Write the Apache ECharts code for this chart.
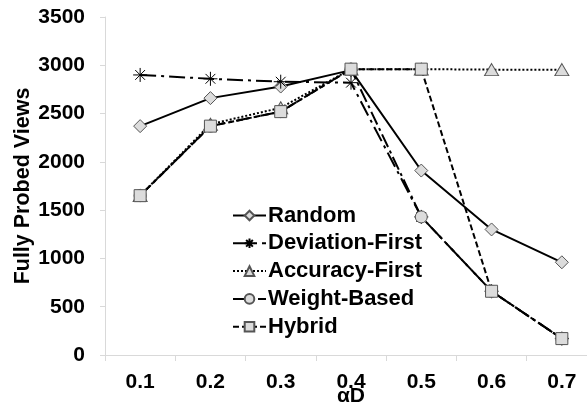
<!DOCTYPE html>
<html>
<head>
<meta charset="utf-8">
<script src="https://cdn.jsdelivr.net/npm/echarts@6/dist/echarts.min.js"></script>
<style>
  html, body { margin: 0; padding: 0; background: #fff; }
  #chart { width: 587px; height: 410px; }
</style>
</head>
<body>
<div id="chart"></div>
<script>
// Probe-ratio settings on the x axis
const categories = ['0.1', '0.2', '0.3', '0.4', '0.5', '0.6', '0.7'];

// Number of fully probed views per strategy
const randomVals    = [2370, 2660, 2780, 2950, 1910, 1300, 960];
const deviationVals = [2900, 2860, 2830, 2820, 1430, 660, 170];
const accuracyVals  = [1650, 2390, 2560, 2960, 2960, 2955, 2955];
const weightVals    = [1650, 2370, 2520, 2960, 1430, 660, 170];
const hybridVals    = [1650, 2370, 2520, 2960, 2960, 660, 170];

const yTicks = [0, 500, 1000, 1500, 2000, 2500, 3000, 3500];

const FONT = '"Liberation Sans", Arial, sans-serif';
const markFill = '#dcdcdc';
const markEdge = '#555';
const asterisk = 'path://M0,5L10,5M5,0L5,10M1.5,1.5L8.5,8.5M1.5,8.5L8.5,1.5';

function series(name, data, symbol, size, lineType, zBase) {
  return {
    name: name,
    type: 'line',
    data: data,
    symbol: symbol,
    symbolSize: size,
    z: zBase,
    lineStyle: { color: '#000', width: 2, type: lineType },
    itemStyle: symbol === asterisk
      ? { color: '#000', borderColor: '#000', borderWidth: 1 }
      : { color: markFill, borderColor: markEdge, borderWidth: 1 },
    emphasis: { disabled: true }
  };
}

const chart = echarts.init(document.getElementById('chart'), null, { renderer: 'canvas' });
chart.setOption({
  animation: false,
  backgroundColor: '#fff',
  textStyle: { fontFamily: FONT },
  grid: {
    left: 105, right: -10, top: 17, bottom: 55,
    containLabel: false,
    outerBoundsMode: 'none'
  },
  legend: {
    orient: 'vertical',
    left: 232,
    top: 204.5,
    padding: 0,
    itemWidth: 33,
    itemHeight: 12,
    itemGap: 5.8,
    textStyle: { fontFamily: FONT, fontSize: 22, lineHeight: 21, fontWeight: 'bold', color: '#000', padding: [0, 0, 0, -3] },
    data: ['Random', 'Deviation-First', 'Accuracy-First', 'Weight-Based', 'Hybrid']
  },
  xAxis: {
    type: 'category',
    data: categories,
    boundaryGap: true,
    name: 'αD',
    nameLocation: 'middle',
    nameGap: 31,
    nameMoveOverlap: false,
    nameTextStyle: { fontFamily: FONT, fontSize: 21, fontWeight: 'bold', color: '#000' },
    axisLine: { lineStyle: { color: '#d9d9d9', width: 1 } },
    axisTick: { show: true, length: 6, lineStyle: { color: '#d9d9d9' } },
    axisLabel: { fontFamily: FONT, fontSize: 21, fontWeight: 'bold', color: '#000', margin: 17 },
    splitLine: { show: false }
  },
  yAxis: {
    type: 'value',
    min: yTicks[0],
    max: yTicks[yTicks.length - 1],
    interval: 500,
    name: 'Fully Probed Views',
    nameLocation: 'middle',
    nameRotate: 90,
    nameGap: 71,
    nameMoveOverlap: false,
    nameTextStyle: { fontFamily: FONT, fontSize: 21.5, fontWeight: 'bold', color: '#000' },
    axisLine: { show: true, lineStyle: { color: '#d9d9d9', width: 1 } },
    axisTick: { show: true, length: 5, lineStyle: { color: '#d9d9d9' } },
    axisLabel: {
      fontFamily: FONT, fontSize: 21, fontWeight: 'bold', color: '#000', margin: 20,
      formatter: function (v) { return String(v); }
    },
    splitLine: { show: false }
  },
  series: [
    series('Random', randomVals, 'diamond', [13, 13], 'solid', 2),
    series('Deviation-First', deviationVals, asterisk, 14, [16, 5, 3, 5], 3),
    series('Accuracy-First', accuracyVals, 'triangle', [14, 12], [2, 2], 4),
    series('Weight-Based', weightVals, 'circle', 12, [14, 4, 3, 4], 5),
    series('Hybrid', hybridVals, 'rect', [12, 12], [6, 3], 6)
  ]
});
</script>
</body>
</html>
